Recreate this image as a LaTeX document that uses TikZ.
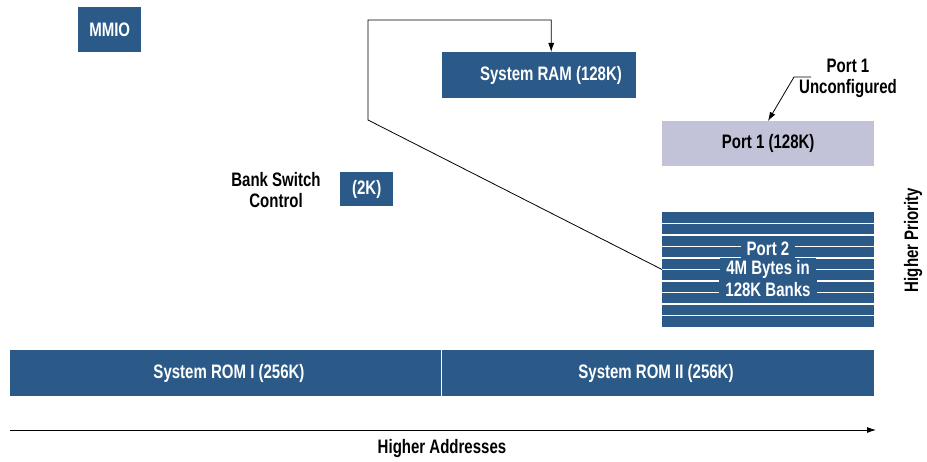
\documentclass[tikz,border=0pt]{standalone}
\usepackage{fontspec}
\setmainfont{Liberation Sans}[FakeStretch=0.77]
\usetikzlibrary{arrows.meta,calc}
\definecolor{hpblue}{HTML}{2B5A88}
\definecolor{hplav}{HTML}{C2C3D9}
\begin{document}
\begin{tikzpicture}[x=1pt,y=-1pt,
  every node/.style={font=\fontsize{19.5}{21}\selectfont\bfseries},
  blk/.style={fill=hpblue,text=white,inner sep=0pt,anchor=north west},
  lbl/.style={text=black,align=center,inner sep=0pt},
  wtxt/.style={text=white,inner sep=0pt},
  strip/.style={fill=hpblue,text=white,inner xsep=6pt,inner ysep=0pt,minimum height=22pt},
  conn/.style={line width=0.8pt,black}]
\useasboundingbox (0,0) rectangle (927,462);
% blocks
\node[blk,minimum width=63pt,minimum height=45pt] (mmio) at (78,7) {MMIO};
\node[blk,minimum width=194pt,minimum height=46pt] (ram) at (442,52) {};
\node[wtxt] (ramtxt) at (551,75) {System RAM (128K)};
\node[blk,fill=hplav,text=black,minimum width=212pt,minimum height=45pt] (p1) at (662,121) {Port 1 (128K)};
\node[blk,minimum width=53pt,minimum height=34pt] (bsc) at (340,172) {(2K)};
\node[lbl] (bsclbl) at (276,190) {Bank Switch\\Control};
\node[blk,minimum width=212pt,minimum height=115pt] (p2) at (662,212) {};
\foreach \y in {223.5,235,246.5,258,269.5,281,292.5,304,315.5}
  \draw[white,line width=1.5pt] (662,\y) -- (874,\y);
\node[strip] (m1) at (768,249) {Port 2};
\node[strip] (m2) at (768,269.5) {4M Bytes in};
\node[strip] (m3) at (768,290) {128K Banks};
\node[blk,minimum width=431pt,minimum height=46pt] (rom1) at (10,350) {};
\node[wtxt] (rom1txt) at (229,373) {System ROM I (256K)};
\node[blk,minimum width=432pt,minimum height=46pt] (rom2) at (442,350) {};
\node[wtxt] (rom2txt) at (656,373) {System ROM II (256K)};
% labels
\node[lbl] (p1lbl) at (848,78) {Port 1\\Unconfigured};
\node[lbl,rotate=90] (prio) at (913,240) {Higher Priority};
\node[lbl] (addr) at (442,449) {Higher Addresses};
% connectors
\coordinate (b1) at (368,120);
\coordinate (b2) at (368,20);
\coordinate (ramin) at ([xshift=12pt]ram.north);
\draw[conn,-{Latex[length=9pt,width=6pt]}] (p2.west |- m2.center) -- (b1) -- (b2) -| (ramin);
\coordinate (l1) at (811,77);
\coordinate (l2) at (794,77);
\draw[conn,-{Latex[length=9pt,width=6pt]}] (l1) -- (l2) -- (p1.north -| 768,0);
\coordinate (ax0) at (10,430);
\coordinate (ax1) at (876,430);
\draw[conn,-{Latex[length=9pt,width=6pt]}] (ax0) -- (ax1);
\end{tikzpicture}
\end{document}
